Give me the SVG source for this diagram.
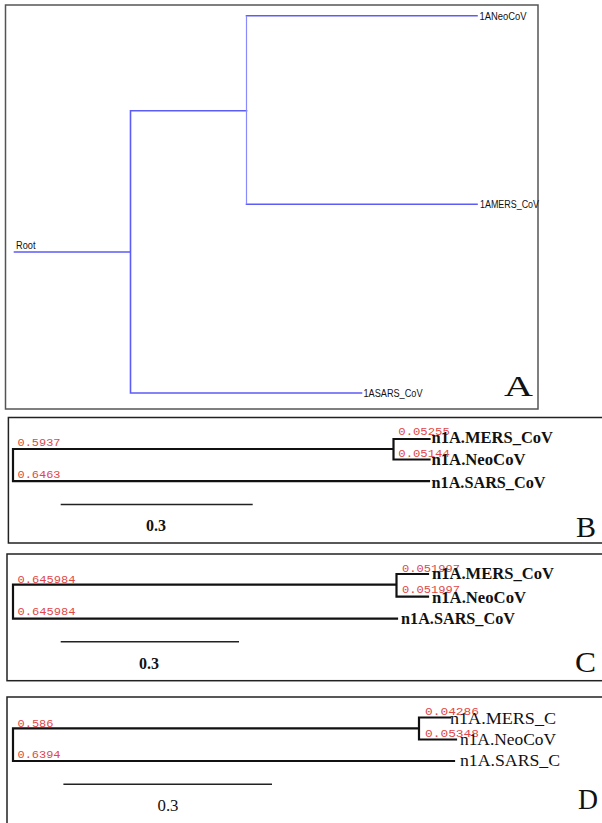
<svg xmlns="http://www.w3.org/2000/svg" width="602" height="823" viewBox="0 0 602 823">
<style>
.frameA{fill:none;stroke:#555;stroke-width:1.5}
.frame{fill:none;stroke:#222;stroke-width:1.5}
.blue{fill:none;stroke:#5c5cf6;stroke-width:1.6;stroke-linecap:square}
.br{fill:none;stroke:#111;stroke-width:2.2;stroke-linecap:square}
.bar{fill:none;stroke:#222;stroke-width:1.6}
.ta{font-family:"Liberation Sans",Arial,sans-serif;font-size:10px;fill:#111}
.lb{font-family:"Liberation Serif","Times New Roman",serif;font-size:16px;font-weight:bold;fill:#111}
.lr{font-family:"Liberation Serif","Times New Roman",serif;font-size:16px;fill:#111}
.red{font-family:"Liberation Mono","Courier New",monospace;font-size:11.5px;fill:#e04848}
.big{font-family:"Liberation Serif","Times New Roman",serif;font-size:30px;fill:#111}
</style>

<!-- Panel A -->
<g id="panelA">
<rect class="frameA" x="5.5" y="5" width="532.5" height="404"/>
<g id="connectorsA">
<path class="blue" d="M14.5,252 H130.5 M130.5,110.7 V393 M130.5,110.7 H246.5 M130.5,393 H361.5 M246.5,204.3 H477 M246.5,15.7 H477"/>
<path fill="none" stroke="#8a8aff" stroke-width="1.2" d="M246.5,15.7 V204.3"/>
</g>
<g id="A-root"><text class="ta" x="16" y="249.3" textLength="19.5" lengthAdjust="spacingAndGlyphs">Root</text></g>
<g id="A-neo"><text class="ta" x="479.5" y="19.5" textLength="47" lengthAdjust="spacingAndGlyphs">1ANeoCoV</text></g>
<g id="A-mers"><text class="ta" x="480" y="208" textLength="59" lengthAdjust="spacingAndGlyphs">1AMERS_CoV</text></g>
<g id="A-sars"><text class="ta" x="363.5" y="397" textLength="59" lengthAdjust="spacingAndGlyphs">1ASARS_CoV</text></g>
<text class="big" x="504" y="396" textLength="29" lengthAdjust="spacingAndGlyphs">A</text>
</g>

<!-- Panel B -->
<g id="panelB">
<rect class="frame" x="8.4" y="417.5" width="620" height="125.5"/>
<g id="connectorsB">
<path class="br" d="M13,449 V481.2 M13,449 H393.5 M13,481.2 H429 M393.5,439 V459.5 M393.5,439 H429.5 M393.5,459.5 H429.5"/>
<path class="bar" d="M60.7,504.5 H252.7"/>
</g>
<g class="red">
<text x="17.5" y="445.8" textLength="43" lengthAdjust="spacingAndGlyphs">0.5937</text>
<text x="17.5" y="478" textLength="43" lengthAdjust="spacingAndGlyphs">0.6463</text>
<text x="398.3" y="435.2" textLength="51.5" lengthAdjust="spacingAndGlyphs">0.05255</text>
<text x="398.3" y="456.7" textLength="51.5" lengthAdjust="spacingAndGlyphs">0.05144</text>
</g>
<g id="B-mers"><text class="lb" x="431.5" y="443.3" textLength="121.5" lengthAdjust="spacingAndGlyphs">n1A.MERS_CoV</text></g>
<g id="B-neo"><text class="lb" x="431.5" y="465" textLength="94" lengthAdjust="spacingAndGlyphs">n1A.NeoCoV</text></g>
<g id="B-sars"><text class="lb" x="431.5" y="487.5" textLength="114" lengthAdjust="spacingAndGlyphs">n1A.SARS_CoV</text></g>
<text class="lb" x="146" y="530.7" textLength="20" lengthAdjust="spacingAndGlyphs">0.3</text>
<text class="big" x="576" y="537" textLength="20" lengthAdjust="spacingAndGlyphs">B</text>
</g>

<!-- Panel C -->
<g id="panelC">
<rect class="frame" x="7" y="554" width="620" height="126.7"/>
<g id="connectorsC">
<path class="br" d="M13,584.7 V618.7 M13,584.7 H396.5 M13,618.7 H397 M396.5,574 V596.7 M396.5,574 H428 M396.5,596.7 H428"/>
<path class="bar" d="M60.7,641.7 H239"/>
</g>
<g class="red">
<text x="17.5" y="583.3" textLength="58" lengthAdjust="spacingAndGlyphs">0.645984</text>
<text x="17.5" y="614.7" textLength="58" lengthAdjust="spacingAndGlyphs">0.645984</text>
<text x="402" y="571.7" textLength="58" lengthAdjust="spacingAndGlyphs">0.051997</text>
<text x="402" y="593.3" textLength="58" lengthAdjust="spacingAndGlyphs">0.051997</text>
</g>
<g id="C-mers"><text class="lb" x="432" y="579.3" textLength="122" lengthAdjust="spacingAndGlyphs">n1A.MERS_CoV</text></g>
<g id="C-neo"><text class="lb" x="432" y="602.7" textLength="94" lengthAdjust="spacingAndGlyphs">n1A.NeoCoV</text></g>
<g id="C-sars"><text class="lb" x="401" y="624" textLength="114" lengthAdjust="spacingAndGlyphs">n1A.SARS_CoV</text></g>
<text class="lb" x="139" y="668.7" textLength="20" lengthAdjust="spacingAndGlyphs">0.3</text>
<text class="big" x="575" y="671.7" textLength="21" lengthAdjust="spacingAndGlyphs">C</text>
</g>

<!-- Panel D -->
<g id="panelD">
<rect class="frame" x="7" y="697" width="620" height="140"/>
<g id="connectorsD">
<path class="br" d="M13,728.3 V761 M13,728.3 H419 M13,761 H454 M419,717.5 V739.5 M419,717.5 H450 M419,739.5 H456"/>
<path class="bar" d="M63.4,784.3 H272"/>
</g>
<g class="red">
<text x="17.5" y="726.7" textLength="36" lengthAdjust="spacingAndGlyphs">0.586</text>
<text x="17.5" y="758.3" textLength="43" lengthAdjust="spacingAndGlyphs">0.6394</text>
<text x="425" y="715" textLength="54" lengthAdjust="spacingAndGlyphs">0.04286</text>
<text x="425" y="736.7" textLength="54" lengthAdjust="spacingAndGlyphs">0.05348</text>
</g>
<g id="D-mers"><text class="lr" x="450" y="723.5" textLength="106" lengthAdjust="spacingAndGlyphs">n1A.MERS_C</text></g>
<g id="D-neo"><text class="lr" x="460" y="744.5" textLength="96" lengthAdjust="spacingAndGlyphs">n1A.NeoCoV</text></g>
<g id="D-sars"><text class="lr" x="460" y="766" textLength="100" lengthAdjust="spacingAndGlyphs">n1A.SARS_C</text></g>
<text class="lr" x="157.5" y="811" textLength="21" lengthAdjust="spacingAndGlyphs">0.3</text>
<text class="big" x="578" y="809" textLength="20" lengthAdjust="spacingAndGlyphs">D</text>
</g>
</svg>
